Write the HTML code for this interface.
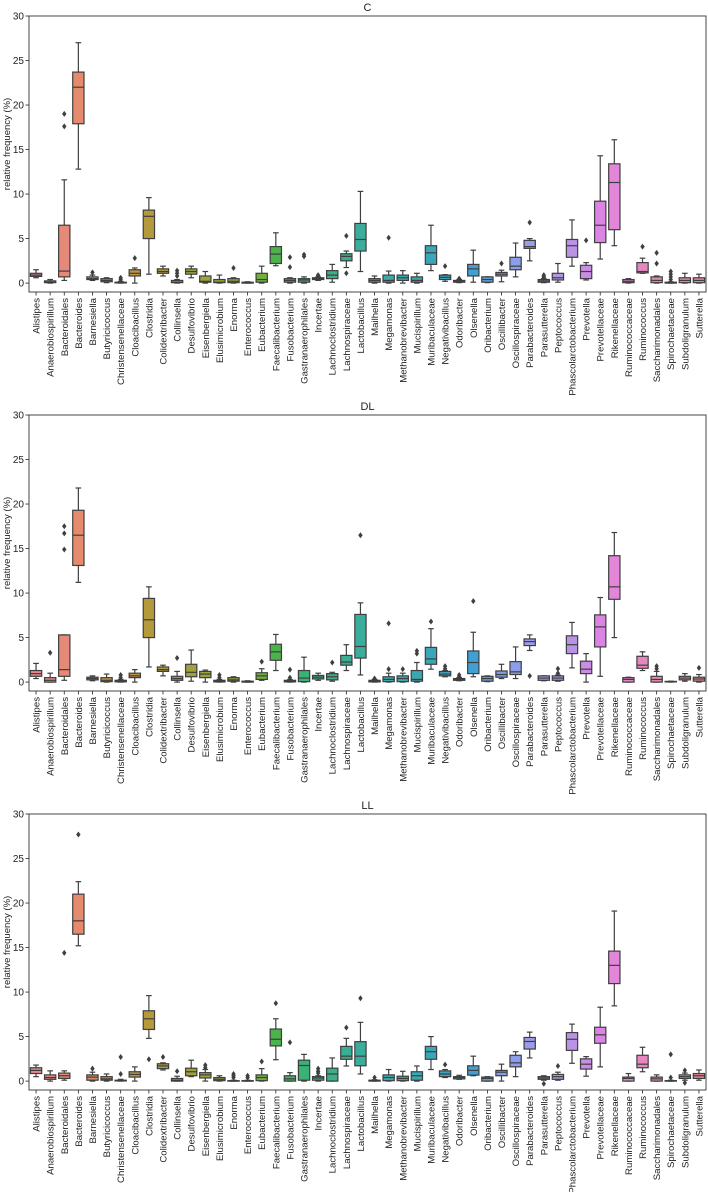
<!DOCTYPE html>
<html><head><meta charset="utf-8"><style>
html,body{margin:0;padding:0;background:#fff;}
svg{display:block;font-family:"Liberation Sans","DejaVu Sans",sans-serif;}
</style></head><body>
<svg id="chart" width="708" height="1192" viewBox="0 0 708 1192" xmlns="http://www.w3.org/2000/svg"></svg>
<script>
const categories=["Alistipes","Anaerobiospirillum","Bacteroidales","Bacteroides","Barnesiella","Butyricicoccus","Christensenellaceae","Cloacibacillus","Clostridia","Colidextribacter","Collinsella","Desulfovibrio","Eisenbergiella","Elusimicrobium","Enorma","Enterococcus","Eubacterium","Faecalibacterium","Fusobacterium","Gastranaerophilales","Incertae","Lachnoclostridium","Lachnospiraceae","Lactobacillus","Mailhella","Megamonas","Methanobrevibacter","Mucispirillum","Muribaculaceae","Negativibacillus","Odoribacter","Olsenella","Oribacterium","Oscillibacter","Oscillospiraceae","Parabacteroides","Parasutterella","Peptococcus","Phascolarctobacterium","Prevotella","Prevotellaceae","Rikenellaceae","Ruminococcaceae","Ruminococcus","Saccharimonadales","Spirochaetaceae","Subdoligranulum","Sutterella"];
const yTicks=[0,5,10,15,20,25,30];
const panelTitles=["C","DL","LL"];
// [whiskerLow, q1, median, q3, whiskerHigh]
const statsC=[[0.6,0.75,0.9,1.1,1.5],[0,0.05,0.1,0.25,0.4],[0.3,0.7,1.35,6.5,11.6],[12.8,17.9,22,23.7,27],[0.3,0.4,0.5,0.7,0.9],[0.05,0.15,0.3,0.5,0.6],[0,0.02,0.05,0.1,0.2],[0,0.8,1.1,1.5,1.7],[1.0,5.0,7.5,8.2,9.6],[0.8,1.1,1.3,1.6,1.9],[0,0.05,0.1,0.3,0.4],[0.6,1.0,1.3,1.6,1.9],[0,0.1,0.2,0.8,1.3],[0,0.05,0.1,0.4,0.9],[0,0.05,0.2,0.5,0.6],[0,0,0.05,0.1,0.15],[0,0.1,0.4,1.1,1.9],[1.95,2.2,3.26,4.1,5.65],[0,0.1,0.3,0.5,0.6],[0,0.1,0.35,0.5,0.7],[0.3,0.4,0.5,0.6,0.7],[0.1,0.5,0.9,1.4,2.1],[1.75,2.5,3.0,3.3,3.6],[1.3,3.6,4.9,6.7,10.3],[0,0.1,0.3,0.5,0.8],[0,0.1,0.3,0.9,1.35],[0,0.3,0.6,0.9,1.4],[0,0.1,0.3,0.7,1.1],[1.4,2.1,3.4,4.2,6.5],[0.2,0.4,0.65,0.9,0.95],[0.05,0.1,0.2,0.3,0.4],[0.1,0.8,1.6,2.1,3.7],[0.05,0.1,0.4,0.7,0.7],[0.15,0.8,1.0,1.2,1.45],[0.7,1.5,1.9,2.9,4.5],[2.5,3.9,4.1,4.8,5.0],[0.05,0.1,0.25,0.4,0.5],[0.1,0.35,0.6,1.1,2.2],[1.9,2.9,4.2,4.9,7.1],[0.35,0.5,1.3,2.0,2.3],[2.7,4.55,6.5,9.2,14.3],[4.2,6.0,11.3,13.4,16.1],[0,0.05,0.2,0.4,0.5],[1.1,1.15,1.3,2.3,2.8],[0,0.05,0.3,0.7,0.8],[0,0,0.05,0.1,0.15],[0,0.05,0.3,0.6,1.1],[0,0.05,0.3,0.6,1.0]];
const outliersC=[[],[],[17.6,19],[],[1.2],[],[0.4,0.6],[2.8],[],[],[0.8,1.1,1.4],[],[],[],[1.7],[],[],[],[1.8,2.9],[3.0,3.2],[0.8,0.9],[],[1.1,5.3],[],[],[5.1],[],[],[],[1.9],[0.5],[],[],[2.2],[],[6.8],[0.6,0.75,0.9],[],[],[4.8],[],[],[],[4.1],[2.2,3.4],[0.4,0.7,1.0,1.3],[],[]];
const statsDL=[[0.4,0.65,0.95,1.3,2.1],[0,0,0.2,0.5,1.0],[0.2,0.65,1.4,5.3,5.3],[11.2,13.1,16.5,19.3,21.8],[0.15,0.25,0.4,0.55,0.7],[0,0.05,0.2,0.5,0.9],[0,0.03,0.1,0.2,0.3],[0,0.5,0.7,1.0,1.4],[1.7,5.0,7.0,9.4,10.7],[0.7,1.2,1.4,1.7,1.9],[0,0.2,0.4,0.65,1.2],[0.1,0.6,1.1,2.0,3.6],[0,0.5,0.9,1.2,1.35],[0,0.02,0.1,0.2,0.3],[0,0.1,0.25,0.5,0.6],[0,0,0.05,0.1,0.15],[0.2,0.3,0.7,1.05,1.5],[1.3,2.45,3.4,4.25,5.35],[0,0.02,0.1,0.2,0.3],[0,0.05,0.45,1.3,2.8],[0.2,0.35,0.55,0.75,1.0],[0.1,0.25,0.6,0.95,1.1],[1.3,1.9,2.25,3.0,4.2],[0.8,2.7,4.0,7.6,8.9],[0,0.02,0.1,0.2,0.3],[0,0.05,0.3,0.6,1.0],[0,0.05,0.4,0.7,1.0],[0,0.1,0.3,1.3,2.2],[1.45,2.0,2.6,3.9,6.0],[0.6,0.7,0.9,1.2,1.3],[0.15,0.2,0.3,0.4,0.5],[0.6,0.95,2.2,3.5,5.6],[0.05,0.1,0.4,0.65,0.7],[0.4,0.55,0.85,1.25,2.0],[0.4,0.85,1.15,2.3,3.95],[3.55,4.1,4.55,4.85,5.3],[0.15,0.2,0.45,0.7,0.7],[0.1,0.2,0.45,0.7,0.8],[1.6,3.2,4.2,5.2,6.7],[0,0.95,1.45,2.35,3.2],[0.65,3.95,6.2,7.55,9.5],[5.0,9.3,10.7,14.2,16.8],[0,0,0.3,0.5,0.55],[1.3,1.55,1.9,2.9,3.4],[0,0,0.3,0.65,1.2],[0,0.02,0.05,0.08,0.1],[0.1,0.25,0.45,0.65,0.95],[0,0.1,0.35,0.55,0.85]];
const outliersDL=[[],[3.3],[14.9,16.7,17.5],[],[],[],[0.5,0.8],[],[],[],[2.7],[],[],[0.5,0.8],[],[],[2.3],[],[0.5,1.4],[],[],[2.2],[],[16.5],[0.4],[1.45,6.6],[1.45],[3.2,3.5],[6.8],[1.5,1.8],[0.6,0.8],[9.1],[],[],[],[0.7],[],[1.0,1.5],[],[],[],[],[],[],[1.5,1.8],[],[],[1.6]];
const statsLL=[[0.5,0.85,1.2,1.5,1.8],[0,0.2,0.4,0.7,1.15],[0.1,0.3,0.6,0.9,1.15],[15.2,16.5,18.0,21.0,22.4],[0,0.1,0.45,0.7,1.0],[0,0.1,0.25,0.5,0.8],[0,0.02,0.05,0.1,0.2],[0,0.45,0.75,1.05,1.6],[4.8,5.8,7.0,7.9,9.6],[1.25,1.4,1.7,1.95,2.05],[0,0,0.1,0.3,0.55],[0.5,0.6,1.05,1.45,2.35],[0,0.35,0.7,0.95,1.3],[0,0.05,0.2,0.4,0.6],[0,0,0.02,0.05,0.1],[0,0,0.02,0.05,0.1],[0,0.05,0.4,0.7,1.4],[2.4,3.95,4.7,5.85,7.0],[0,0,0.25,0.6,0.95],[0,0.1,1.75,2.35,3.0],[0,0.1,0.35,0.5,0.6],[0,0,0.8,1.45,2.6],[1.7,2.45,2.8,3.9,4.8],[0.8,1.72,2.8,4.43,6.6],[0,0,0.05,0.1,0.15],[0,0.05,0.4,0.7,1.3],[0,0.05,0.3,0.55,1.1],[0,0.1,0.6,1.05,1.7],[1.3,2.45,3.3,3.9,5.0],[0.4,0.5,0.8,1.15,1.3],[0.2,0.25,0.4,0.5,0.65],[0.6,0.67,1.2,1.72,2.8],[0,0,0.3,0.45,0.5],[0,0.6,1.0,1.2,1.9],[0.5,1.6,2.05,2.9,3.3],[2.6,3.6,4.45,4.9,5.5],[0.1,0.2,0.35,0.5,0.6],[0.1,0.2,0.5,0.75,1.0],[2.0,3.45,4.7,5.45,6.4],[0.55,1.35,1.9,2.5,2.75],[1.6,4.25,5.2,6.05,8.3],[8.45,10.95,13.0,14.6,19.1],[0,0,0.3,0.45,0.85],[1.05,1.5,1.9,2.9,3.8],[0,0,0.25,0.45,0.7],[0,0,0.02,0.05,0.1],[0.1,0.3,0.5,0.7,0.9],[0.1,0.3,0.6,0.85,1.25]];
const outliersLL=[[],[],[14.4],[27.7],[1.4],[],[0.8,2.7],[],[2.45],[2.7],[1.1],[],[1.5,1.8],[],[0.4,0.6,0.8],[0.4,0.6],[2.2],[8.75],[4.35],[],[0.9,1.1,1.4],[],[6.0],[9.3],[0.4],[],[],[],[],[1.85],[],[],[],[],[],[],[-0.3],[1.7],[],[],[],[],[],[],[],[0.4,3.0],[1.2,-0.2],[]];
const panelStats=[statsC,statsDL,statsLL];
const panelOutliers=[outliersC,outliersDL,outliersLL];

const anchors=[[0,[229,137,143]],[3,[229,138,108]],[5,[204,140,74]],[8,[181,154,60]],[11,[163,160,59]],[14,[138,171,58]],[16,[111,177,61]],[17,[76,178,75]],[19,[58,177,119]],[22,[58,174,146]],[24,[58,172,165]],[28,[58,167,184]],[31,[63,160,214]],[33,[125,158,232]],[35,[155,156,235]],[38,[187,147,230]],[40,[219,132,227]],[41,[227,134,218]],[43,[231,135,192]],[45,[231,137,168]],[47,[232,137,154]]];
function colorAt(i){for(let k=0;k<anchors.length-1;k++){const a=anchors[k],b=anchors[k+1];if(i>=a[0]&&i<=b[0]){const t=(i-a[0])/(b[0]-a[0]||1);const c=a[1].map((v,j)=>Math.round(v+(b[1][j]-v)*t));return `rgb(${c[0]},${c[1]},${c[2]})`;}}return "rgb(232,137,154)";}

const NS="http://www.w3.org/2000/svg";
const svg=document.getElementById('chart');
function mk(tag,attrs,parent){const e=document.createElementNS(NS,tag);for(const k in attrs)e.setAttribute(k,attrs[k]);(parent||svg).appendChild(e);return e;}
const L=29,R=706,H=276,yMin=-1,yMax=30,tops=[16,415,814];
const step=(R-L)/categories.length;
const xC=i=>L+step*(i+0.5);
const LC="#3f3f3f";

tops.forEach((top,p)=>{
  const y=v=>top+H-(v-yMin)/(yMax-yMin)*H;
  const g=mk('g',{});
  
  
  const t=mk('text',{x:(L+R)/2,y:top-5,'text-anchor':'middle','font-size':11,fill:'#222'},g);
  t.textContent=panelTitles[p];
  
  
  const yl=mk('text',{x:0,y:0,transform:`translate(10,${top+H/2-10}) rotate(-90)`,'text-anchor':'middle','font-size':9.5,fill:'#222'},g);
  yl.textContent='relative frequency (%)';
  
  
  yTicks.forEach(v=>{
    mk('line',{x1:L-3.5,x2:L,y1:y(v),y2:y(v),stroke:'#222','stroke-width':0.8},g);
    const tl=mk('text',{x:L-5,y:y(v)+3.5,'text-anchor':'end','font-size':10,fill:'#222'},g);
    tl.textContent=v;
    
    
  });
  const st=panelStats[p],ou=panelOutliers[p];
  const bw=step*0.8;
  categories.forEach((c,i)=>{
    const s=st[i],cx=xC(i),col=colorAt(i);
    const bg=mk('g',{},g);
    
    
    mk('line',{x1:cx,x2:cx,y1:y(s[0]),y2:y(s[1]),stroke:LC,'stroke-width':1.2},bg);
    mk('line',{x1:cx,x2:cx,y1:y(s[3]),y2:y(s[4]),stroke:LC,'stroke-width':1.2},bg);
    mk('line',{x1:cx-bw/4,x2:cx+bw/4,y1:y(s[0]),y2:y(s[0]),stroke:LC,'stroke-width':1.2},bg);
    mk('line',{x1:cx-bw/4,x2:cx+bw/4,y1:y(s[4]),y2:y(s[4]),stroke:LC,'stroke-width':1.2},bg);
    mk('rect',{x:cx-bw/2,y:y(s[3]),width:bw,height:Math.max(0.5,y(s[1])-y(s[3])),fill:col,stroke:LC,'stroke-width':1.2},bg);
    mk('line',{x1:cx-bw/2,x2:cx+bw/2,y1:y(s[2]),y2:y(s[2]),stroke:LC,'stroke-width':1.2},bg);
    ou[i].forEach(v=>{
      const oy=y(v);
      const d=mk('path',{d:`M${cx},${oy-3} L${cx+2.2},${oy} L${cx},${oy+3} L${cx-2.2},${oy} Z`,fill:LC},bg);
      
      
    });
    mk('line',{x1:cx,x2:cx,y1:top+H,y2:top+H+3.5,stroke:'#222','stroke-width':0.8},g);
    const xl=mk('text',{x:0,y:0,transform:`translate(${cx+3.5},${top+H+6}) rotate(-90)`,'text-anchor':'end','font-size':9.6,fill:'#222'},g);
    xl.textContent=c;
    
    
  });
  const fr=mk('rect',{x:L,y:top,width:R-L,height:H,fill:'none',stroke:'#333','stroke-width':0.9},g);
  
  
});
</script>
</body></html>
